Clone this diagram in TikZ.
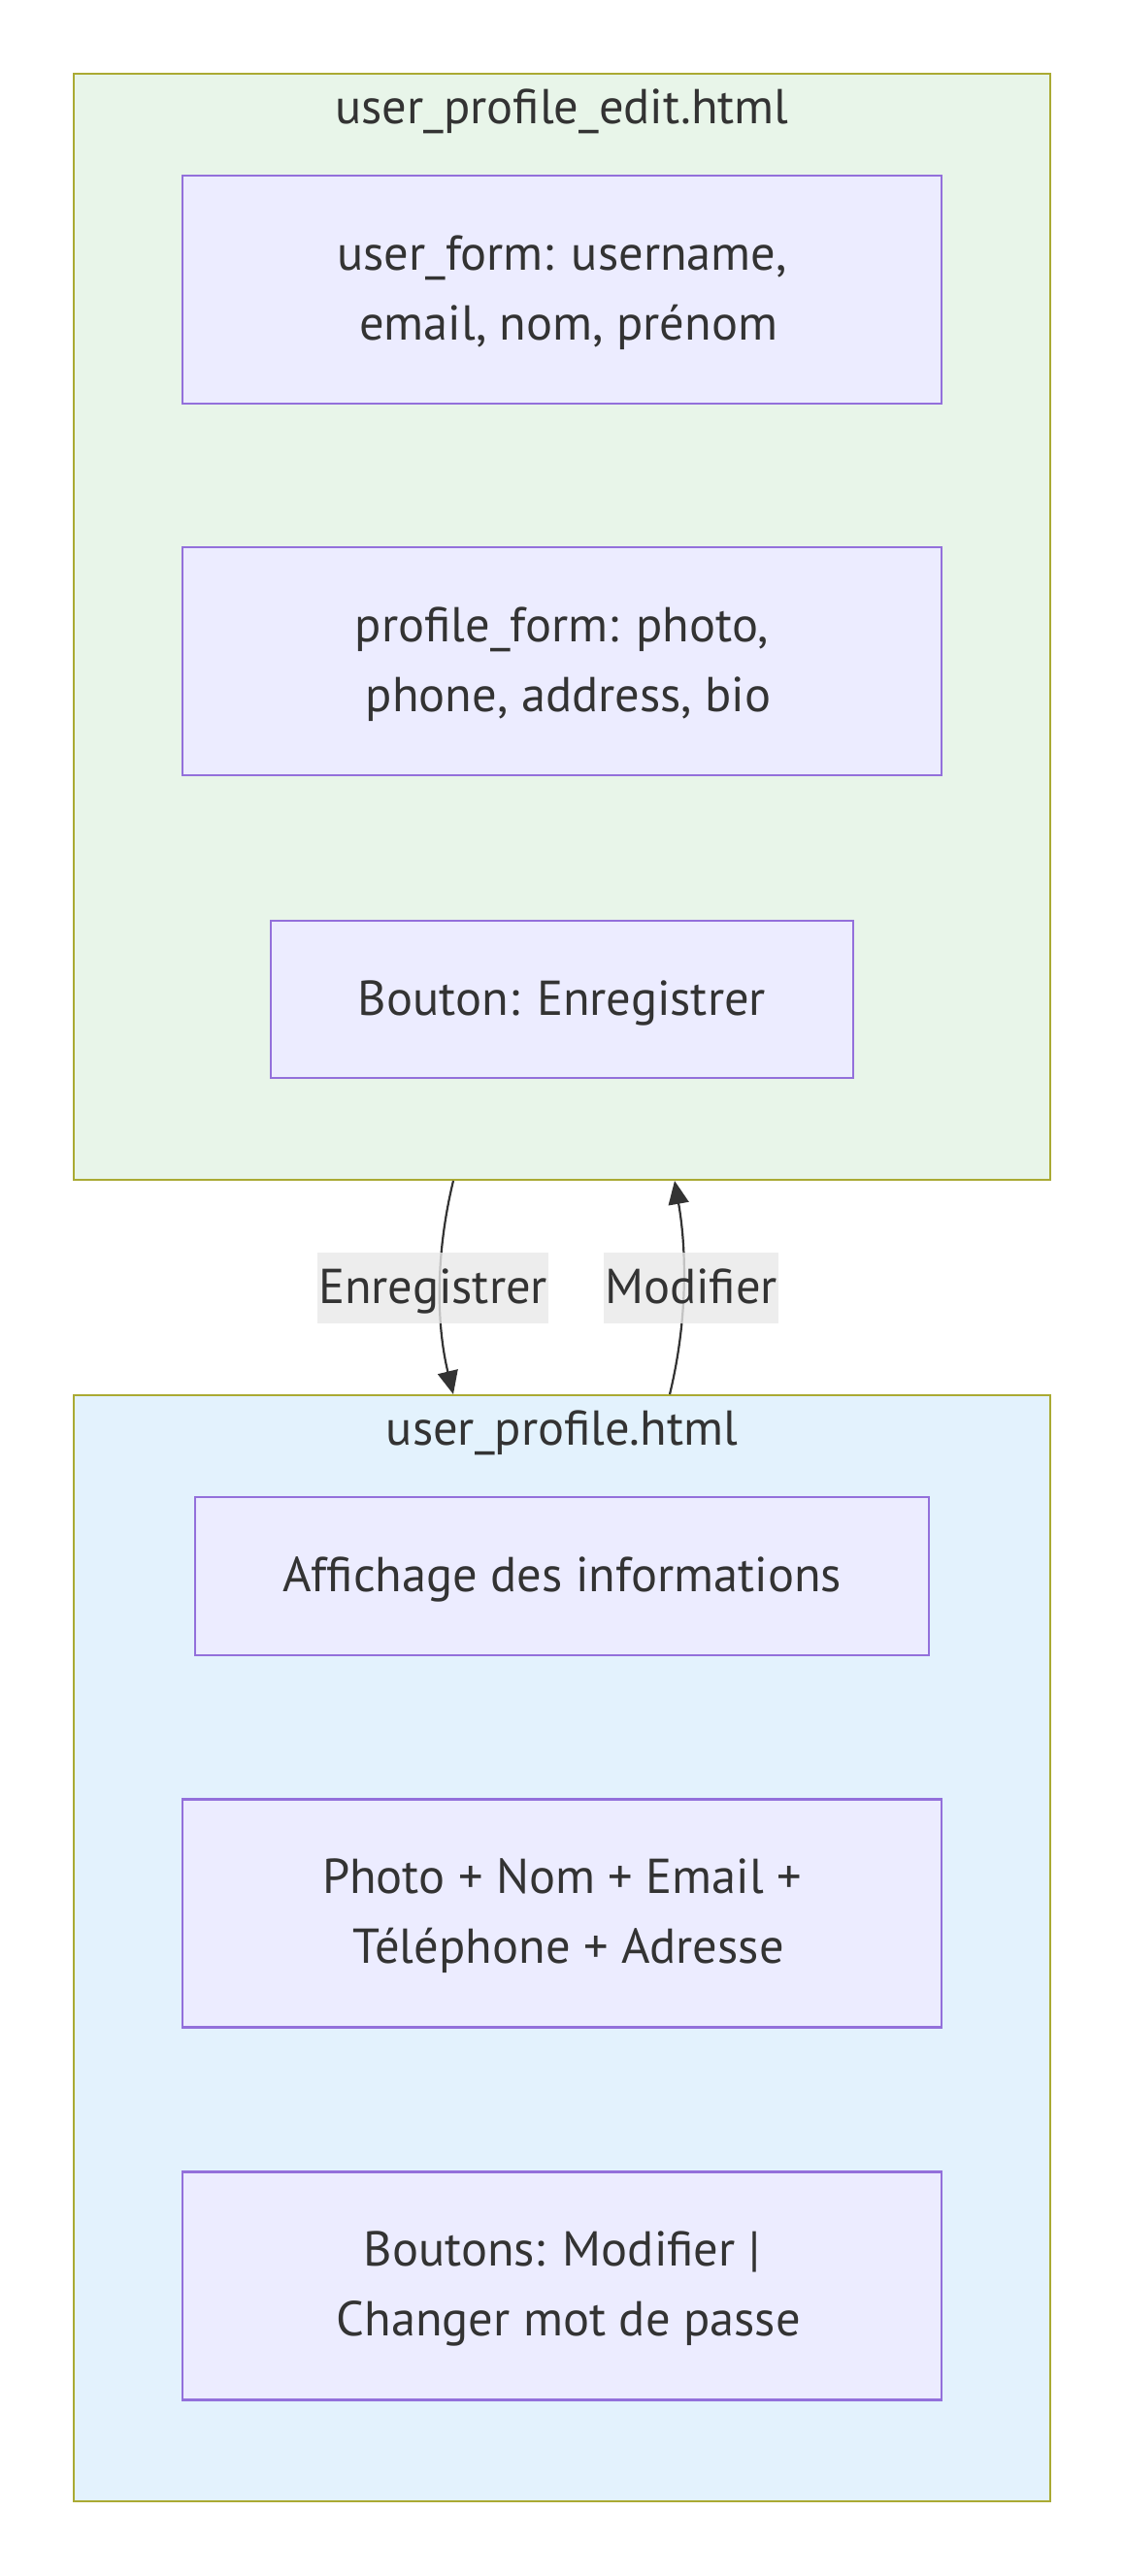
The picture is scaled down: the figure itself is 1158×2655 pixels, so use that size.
\documentclass[tikz,border=0pt]{standalone}
\usepackage{fontspec}
\setmainfont{PT Sans}
\usetikzlibrary{arrows.meta,positioning}
\definecolor{editfill}{HTML}{E8F5E9}
\definecolor{viewfill}{HTML}{E3F2FD}
\definecolor{clusterline}{HTML}{AAAA33}
\definecolor{boxfill}{HTML}{ECECFF}
\definecolor{boxline}{HTML}{9370DB}
\definecolor{ink}{HTML}{333333}
\definecolor{labelfill}{HTML}{E8E8E8}

\begin{document}
\begin{tikzpicture}[x=1pt,y=-1pt,
  every node/.style={font=\fontsize{50.5}{72}\selectfont,text=ink},
  cluster/.style={draw=clusterline,line width=2pt,minimum width=1006pt,minimum height=1140pt,inner sep=0pt},
  title/.style={anchor=base,inner sep=0pt},
  field/.style={draw=boxline,fill=boxfill,line width=2.5pt,align=center,inner sep=0pt,minimum width=782pt,minimum height=235pt,text depth=4pt},
  oneline/.style={text height=38pt,text depth=6pt},
  edge/.style={draw=ink,line width=2.2pt,-{Triangle[length=24pt,width=21pt]}},
  edgelabel/.style={fill=labelfill,fill opacity=0.8,text opacity=1,inner xsep=1pt,inner ysep=0pt,minimum height=73pt,oneline}]
\useasboundingbox (0,0) rectangle (1158,2655);
\node[cluster,fill=editfill] (edit) at (579,646) {};
\node[cluster,fill=viewfill] (view) at (579,2008) {};
\node[title] (editTitle) at (579,127) {user\_profile\_edit.html};
\node[title] (viewTitle) at (579,1489) {user\_profile.html};

\node[field] (userForm) at (579,298.5) {user\_form: username,\\\ email, nom, prénom};
\node[field] (profileForm) at (579,681.5) {profile\_form: photo,\\\ phone, address, bio};
\node[field,oneline,minimum width=600pt,minimum height=162pt] (saveBtn) at (579,1030) {Bouton: Enregistrer};

\node[field,oneline,minimum width=756pt,minimum height=163pt] (infoBox) at (579,1624.5) {Affichage des informations};
\node[field] (summaryBox) at (579,1972) {Photo + Nom + Email +\\\ Téléphone + Adresse};
\node[field] (btnBox) at (579,2356) {Boutons: Modifier |\\\ Changer mot de passe};

\draw[edge] ([xshift=-112pt]edit.south) .. controls +(-18,74) and +(-18,-74) .. ([xshift=-112pt]view.north);
\draw[edge] ([xshift=111pt]view.north) .. controls +(18,-74) and +(13,74) .. ([xshift=116pt]edit.south);
\node[edgelabel] (lblSave) at (446,1327) {Enregistrer};
\node[edgelabel] (lblEdit) at (712,1327) {Modifier};
\end{tikzpicture}
\end{document}
